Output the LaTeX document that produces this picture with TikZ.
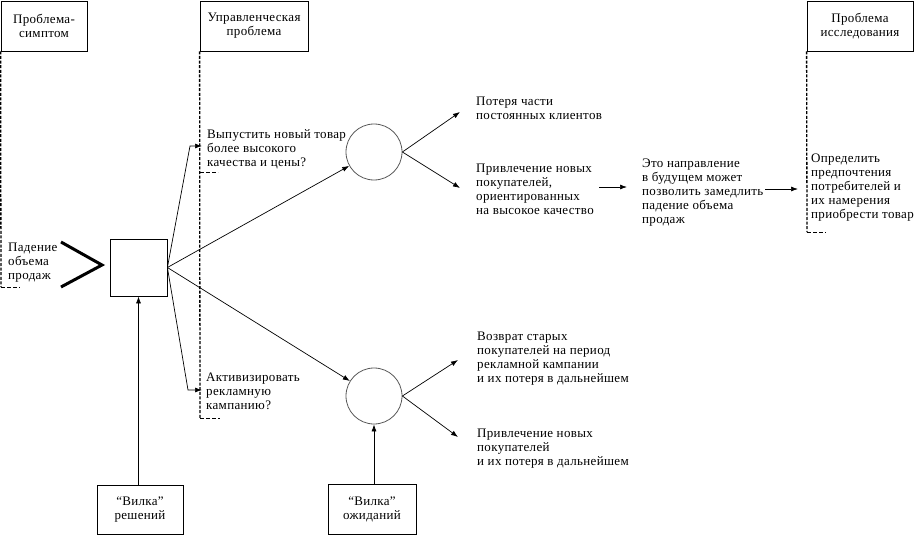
\documentclass[tikz,border=0pt]{standalone}
\usepackage{fontspec}
\setmainfont[LetterSpace=2.5]{Liberation Serif}
\usetikzlibrary{arrows.meta,calc}
\begin{document}
\begin{tikzpicture}[x=1pt,y=-1pt,
  every node/.style={font=\fontsize{13}{14}\selectfont},
  hbox/.style={draw,line width=0.8pt,align=center,inner sep=0,minimum height=50},
  txt/.style={align=left,anchor=north west,inner sep=0},
  brk/.style={line width=1.3pt,dash pattern=on 3pt off 1.6pt},
  tick/.style={line width=1pt,dash pattern=on 3.5pt off 2.5pt},
  arr/.style={-{Latex[length=7pt,width=5pt]},line width=0.7pt},
  chev/.style={line width=3pt},
  oc/.style={circle,draw=black!65,line width=0.8pt,minimum size=56,inner sep=0}
]
\useasboundingbox (0,0) rectangle (914,535);

% header boxes
\node[hbox,minimum width=86] (ps) at (44,26) {Проблема-\\симптом};
\node[hbox,minimum width=108] (mp) at (254,26) {Управленческая\\проблема};
\node[hbox,minimum width=106] (rp) at (860,26) {Проблема\\исследования};

% dashed brackets
\coordinate (psE) at (1,287);  \coordinate (psT) at (20,287);
\draw[brk] (ps.south west) -- (psE);
\draw[tick] (psE) -- (psT);
\coordinate (mpM) at (200,172); \coordinate (mpMT) at (218,172);
\coordinate (mpE) at (200,418); \coordinate (mpT) at (220,418);
\draw[brk] (mp.south west) -- (mpE);
\draw[tick] (mpM) -- (mpMT);
\draw[tick] (mpE) -- (mpT);
\coordinate (rpE) at (807,232); \coordinate (rpT) at (826,232);
\draw[brk] (rp.south west) -- (rpE);
\draw[tick] (rpE) -- (rpT);

% decision box and chevron
\node[draw,line width=0.8pt,minimum size=57,inner sep=0] (db) at (138.5,267.5) {};
\coordinate (ch1) at (61,242); \coordinate (ct) at (102,265); \coordinate (ch2) at (61,287);
\draw[chev] (ch1) -- (ct) -- (ch2);
\node[txt] (pad) at (8,243) {Падение\\объема\\продаж};

% circles
\node[oc] (c1) at (374,152) {};
\node[oc] (c2) at (374,396) {};

% branches to questions
\coordinate (k1) at (190,146); \coordinate (q1) at (202,146);
\coordinate (k2) at (188,390); \coordinate (q2) at (202,390);
\draw[arr] (db.east) -- (k1) -- (q1);
\draw[arr] (db.east) -- (k2) -- (q2);
\draw[arr] (db.east) -- (c1);
\draw[arr] (db.east) -- (c2);

% outcomes
\coordinate (o1) at (460,112); \coordinate (o2) at (460,188);
\coordinate (o3) at (458,360); \coordinate (o4) at (458,437);
\draw[arr] (c1.east) -- (o1);
\draw[arr] (c1.east) -- (o2);
\draw[arr] (c2.east) -- (o3);
\draw[arr] (c2.east) -- (o4);

% texts
\node[txt] (q1t) at (207,129) {Выпустить новый товар\\более высокого\\качества и цены?};
\node[txt] (q2t) at (206,373) {Активизировать\\рекламную\\кампанию?};
\node[txt] (t1) at (476,97) {Потеря части\\постоянных клиентов};
\node[txt] (t2) at (476,164) {Привлечение новых\\покупателей,\\ориентированных\\на высокое качество};
\node[txt] (t3) at (642,159) {Это направление\\в будущем может\\позволить замедлить\\падение объема\\продаж};
\node[txt] (t4) at (811,154) {Определить\\предпочтения\\потребителей и\\их намерения\\приобрести товар};
\node[txt] (t5) at (477,332) {Возврат старых\\покупателей на период\\рекламной кампании\\и их потеря в дальнейшем};
\node[txt] (t6) at (477,429) {Привлечение новых\\покупателей\\и их потеря в дальнейшем};

% horizontal arrows
\coordinate (a1s) at (599,187); \coordinate (a1e) at (627,187);
\coordinate (a2s) at (765,189); \coordinate (a2e) at (798,189);
\draw[arr] (a1s) -- (a1e);
\draw[arr] (a2s) -- (a2e);

% bottom boxes
\node[hbox,minimum width=86,minimum height=49] (vr) at (140,509.5) {“Вилка”\\решений};
\node[hbox,minimum width=88,minimum height=50] (ve) at (372,509) {“Вилка”\\ожиданий};
\draw[arr] (vr.north -| db.south) -- (db.south);
\draw[arr] (ve.north -| c2.south) -- (c2.south);
\end{tikzpicture}
\end{document}
